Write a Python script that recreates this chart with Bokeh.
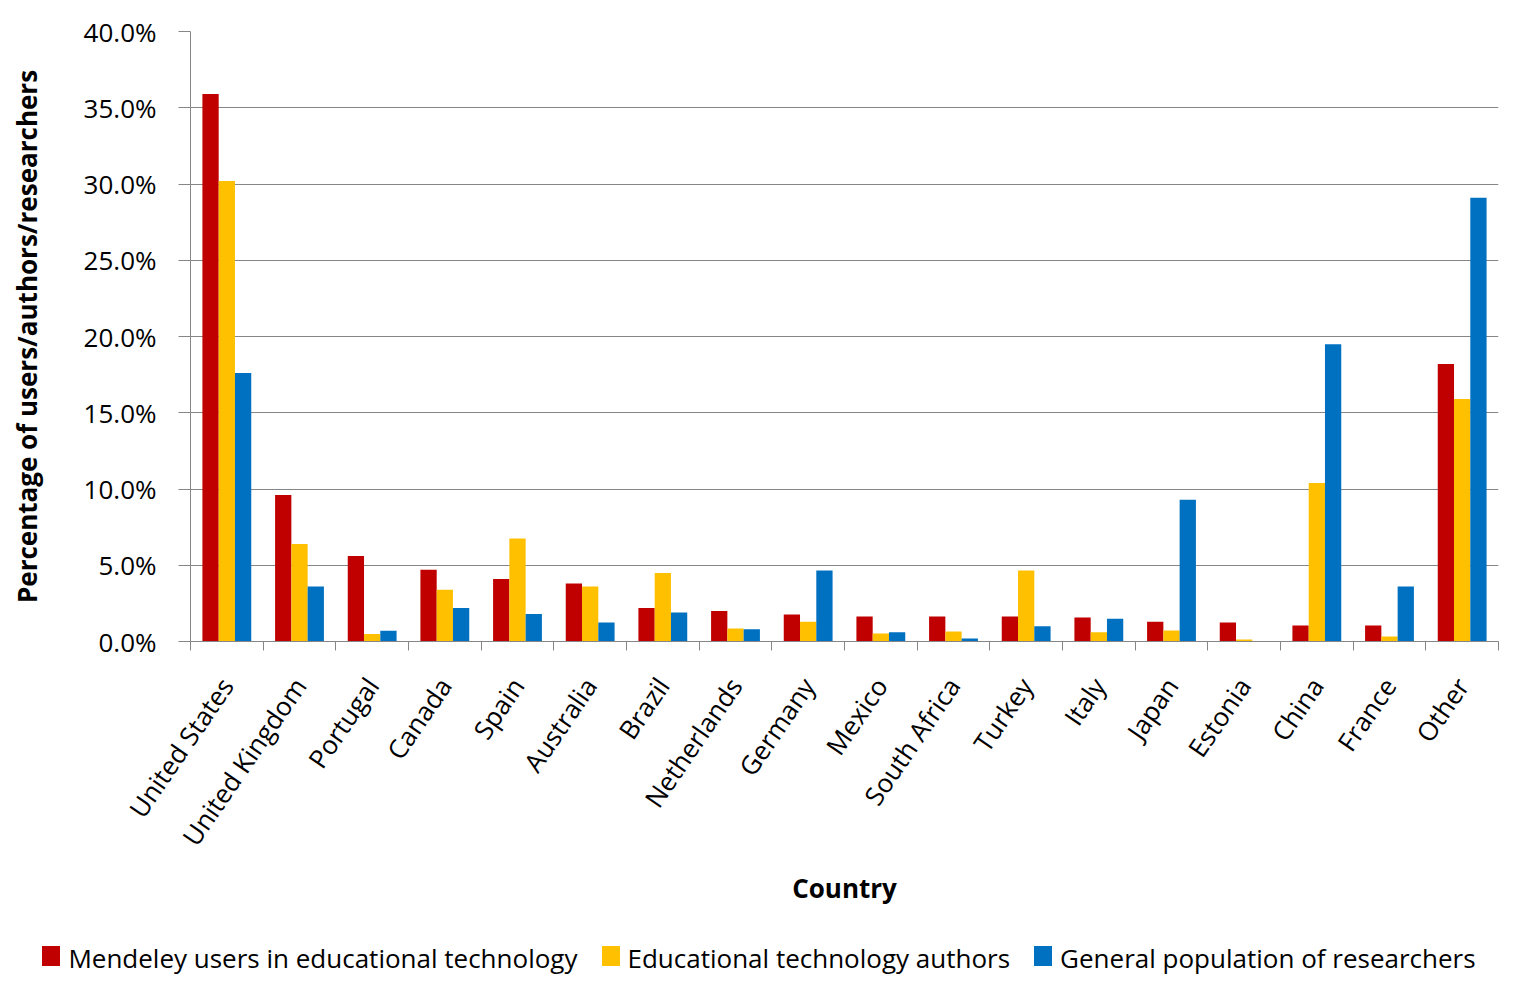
import numpy as np
from bokeh.plotting import figure
from bokeh.layouts import column
from bokeh.models import (ColumnDataSource, Range1d, FixedTicker, NumeralTickFormatter, Div)
from bokeh.embed import file_html
from bokeh.resources import INLINE

countries = ["United States", "United Kingdom", "Portugal", "Canada", "Spain", "Australia",
             "Brazil", "Netherlands", "Germany", "Mexico", "South Africa", "Turkey", "Italy",
             "Japan", "Estonia", "China", "France", "Other"]
mendeley = [35.9, 9.6, 5.6, 4.7, 4.1, 3.8, 2.2, 2.0, 1.77, 1.64, 1.64, 1.64, 1.57, 1.3, 1.25, 1.05, 1.05, 18.2]
authors = [30.2, 6.4, 0.5, 3.4, 6.75, 3.6, 4.5, 0.85, 1.3, 0.52, 0.65, 4.65, 0.6, 0.72, 0.13, 10.4, 0.33, 15.9]
general = [17.6, 3.6, 0.7, 2.2, 1.8, 1.25, 1.9, 0.8, 4.65, 0.6, 0.2, 1.0, 1.5, 9.3, 0.0, 19.5, 3.6, 29.1]
series_names = ["Mendeley users in educational technology", "Educational technology authors",
                "General population of researchers"]
colors = ["#C00000", "#FFC000", "#0070C0"]

FONT = "Open Sans"
GRAY = "#868686"
FS = "26px"

n = len(countries)
centers = np.arange(n) + 0.5
src = ColumnDataSource(dict(
    x=centers,
    m=np.array(mendeley) / 100.0,
    a=np.array(authors) / 100.0,
    g=np.array(general) / 100.0,
))

p = figure(frame_width=1308, frame_height=610, output_backend="svg", toolbar_location=None,
           x_range=Range1d(0, n), y_range=Range1d(0, 0.40))
p.min_border_left = 190
p.min_border_top = 31
p.min_border_right = 20
p.min_border_bottom = 286
p.outline_line_color = None
p.background_fill_color = "white"
p.border_fill_color = "white"

bw = 0.224
for i, (col, c) in enumerate(zip(["m", "a", "g"], colors)):
    p.vbar(x=src.data["x"] + (i - 1) * bw, top=src.data[col], width=bw, bottom=0,
           fill_color=c, line_color=None)

# x axis
xt = FixedTicker(ticks=list(centers), minor_ticks=list(np.arange(n + 1)))
p.xaxis.ticker = xt
p.xaxis.major_label_overrides = {float(c): name for c, name in zip(centers, countries)}
p.xaxis.major_tick_line_color = None
p.xaxis.minor_tick_line_color = GRAY
p.xaxis.minor_tick_out = 9
p.xaxis.minor_tick_in = 0
p.xaxis.axis_line_color = GRAY
p.xaxis.major_label_orientation = 0.97
p.xaxis.major_label_text_font = FONT
p.xaxis.major_label_text_font_size = FS
p.xaxis.major_label_text_color = "black"
p.xaxis.major_label_standoff = 30
p.xaxis.axis_label = "Country"
p.xaxis.axis_label_text_font = FONT
p.xaxis.axis_label_text_font_size = FS
p.xaxis.axis_label_text_font_style = "bold"
p.xaxis.axis_label_text_color = "black"
p.xaxis.axis_label_standoff = 4
p.xgrid.grid_line_color = None

# y axis
p.yaxis.ticker = FixedTicker(ticks=[0.0, 0.05, 0.10, 0.15, 0.20, 0.25, 0.30, 0.35, 0.40])
p.yaxis.formatter = NumeralTickFormatter(format="0.0%")
p.yaxis.axis_line_color = GRAY
p.yaxis.major_tick_line_color = GRAY
p.yaxis.major_tick_out = 12
p.yaxis.major_tick_in = 0
p.yaxis.minor_tick_line_color = None
p.yaxis.major_label_text_font = FONT
p.yaxis.major_label_text_font_size = FS
p.yaxis.major_label_text_color = "black"
p.yaxis.major_label_standoff = 22
p.yaxis.axis_label = "Percentage of users/authors/researchers"
p.yaxis.axis_label_text_font = FONT
p.yaxis.axis_label_text_font_size = FS
p.yaxis.axis_label_text_font_style = "bold"
p.yaxis.axis_label_text_color = "black"
p.yaxis.axis_label_standoff = 36
p.ygrid.grid_line_color = GRAY
p.ygrid.grid_line_width = 1

# legend row (HTML text, real text)
items_html = []
for k, (nm, c) in enumerate(zip(series_names, colors)):
    gap = "margin-left:24px;" if k > 0 else ""
    items_html.append(
        f'<span style="{gap}display:inline-block;width:18px;height:20px;background:{c};'
        f'vertical-align:middle;margin-right:8px;position:relative;top:-2px"></span>'
        f'<span style="vertical-align:middle">{nm}</span>'
    )
legend_html = (
    f'<div style="width:1508px;padding-left:10px;text-align:center;font-family:\'{FONT}\';'
    f'font-size:{FS};line-height:56px;color:black;white-space:nowrap">' + "".join(items_html) + "</div>"
)
legend_div = Div(text=legend_html, width=1518, height=56, margin=(0, 0, 0, 0))

open("out.html", "w").write(file_html(column(p, legend_div, spacing=0), INLINE))
